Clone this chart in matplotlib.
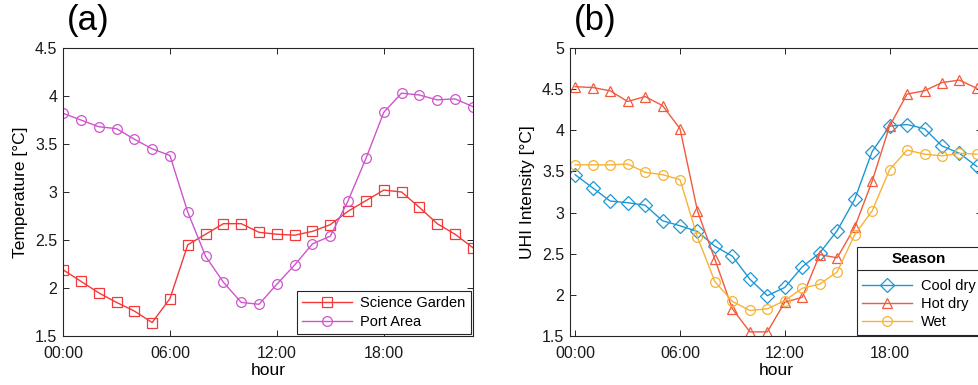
import numpy as np
import matplotlib
matplotlib.use("Agg")
import matplotlib.pyplot as plt
from matplotlib.lines import Line2D

plt.rcParams['font.family'] = ['Liberation Sans', 'DejaVu Sans']

hours = np.arange(24)
tick_hours = [0, 6, 12, 18]
tick_labels = ['00:00', '06:00', '12:00', '18:00']

# (a) temperature difference by site
science_garden = [2.19, 2.07, 1.95, 1.85, 1.76, 1.64, 1.89, 2.45, 2.56, 2.67, 2.67, 2.58,
                  2.56, 2.55, 2.59, 2.66, 2.80, 2.91, 3.02, 3.00, 2.84, 2.67, 2.56, 2.42]
port_area = [3.82, 3.75, 3.68, 3.66, 3.55, 3.45, 3.38, 2.79, 2.33, 2.06, 1.85, 1.83,
             2.04, 2.24, 2.46, 2.54, 2.91, 3.35, 3.83, 4.03, 4.01, 3.96, 3.97, 3.89]

# (b) UHI intensity by season
cool_dry = [3.46, 3.30, 3.14, 3.12, 3.09, 2.90, 2.84, 2.77, 2.59, 2.47, 2.19, 1.99,
            2.09, 2.34, 2.51, 2.78, 3.16, 3.74, 4.05, 4.07, 4.02, 3.81, 3.72, 3.56]
hot_dry = [4.53, 4.52, 4.48, 4.35, 4.41, 4.30, 4.02, 3.02, 2.43, 1.83, 1.55, 1.55,
           1.91, 1.97, 2.49, 2.45, 2.82, 3.38, 4.05, 4.44, 4.48, 4.58, 4.61, 4.51]
wet = [3.58, 3.58, 3.58, 3.59, 3.49, 3.46, 3.40, 2.70, 2.16, 1.92, 1.81, 1.83,
       1.93, 2.08, 2.13, 2.28, 2.73, 3.02, 3.52, 3.76, 3.71, 3.69, 3.72, 3.71]

spine_col = '#262626'

fig = plt.figure(figsize=(9.79, 3.85), dpi=100)
ax1 = fig.add_axes([0.0644, 0.1273, 0.4186, 0.748])
ax2 = fig.add_axes([0.5822, 0.1273, 0.4210, 0.748])


def style(ax):
    for s in ax.spines.values():
        s.set_color(spine_col)
        s.set_linewidth(0.8)
    ax.tick_params(direction='in', top=True, right=True, length=4, width=0.7,
                   color=spine_col, labelsize=11.5, labelcolor='#1a1a1a', pad=4)
    ax.tick_params(axis='x', pad=7)
    ax.set_xticks(tick_hours)
    ax.set_xticklabels(tick_labels)
    ax.set_xlabel('hour', fontsize=12.5, labelpad=2)


mk = dict(markerfacecolor='none', markersize=7, linewidth=1.0, markeredgewidth=0.9)
leg_kw = dict(loc='lower right', fontsize=10.5, fancybox=False, framealpha=1,
              edgecolor=spine_col, handlelength=3.4, borderpad=0.35,
              labelspacing=0.3, handletextpad=0.6)

ax1.plot(hours, science_garden, '-s', color='#f23a3a', label='Science Garden', **mk)
ax1.plot(hours, port_area, '-o', color='#cf55cc', label='Port Area', **mk)
ax1.set_xlim(0, 23)
ax1.set_ylim(1.5, 4.5)
ax1.set_yticks([1.5, 2, 2.5, 3, 3.5, 4, 4.5])
ax1.set_yticklabels(['1.5', '2', '2.5', '3', '3.5', '4', '4.5'])
ax1.set_ylabel('Temperature [°C]', fontsize=12.5, labelpad=5)
style(ax1)
leg1 = ax1.legend(borderaxespad=0.15, **leg_kw)
leg1.get_frame().set_linewidth(0.8)

ax2.plot(hours, cool_dry, '-D', color='#1c98d4', label='Cool dry', **mk)
ax2.plot(hours, hot_dry, '-^', color='#f25a3d', label='Hot dry', **mk)
ax2.plot(hours, wet, '-o', color='#f6b336', label='Wet', **mk)
ax2.set_xlim(-0.3, 23.3)
ax2.set_ylim(1.5, 5)
ax2.set_yticks([1.5, 2, 2.5, 3, 3.5, 4, 4.5, 5])
ax2.set_yticklabels(['1.5', '2', '2.5', '3', '3.5', '4', '4.5', '5'])
ax2.set_ylabel('UHI Intensity [°C]', fontsize=12.5, labelpad=5)
style(ax2)
leg2 = ax2.legend(borderaxespad=0.1, title='Season',
                  title_fontproperties={'weight': 'bold', 'size': 11}, **leg_kw)
leg2.get_frame().set_linewidth(0.8)
leg2._legend_box.sep = 9

# separator line under the legend title
fig.canvas.draw()
r = fig.canvas.get_renderer()
fb = leg2.get_frame().get_window_extent(r)
tb = leg2.get_title().get_window_extent(r)
ysep = tb.y0 - 4
inv = fig.transFigure.inverted()
(x0, y0) = inv.transform((fb.x0, ysep))
(x1, _) = inv.transform((fb.x1, ysep))
fig.add_artist(Line2D([x0, x1], [y0, y0], color=spine_col, linewidth=0.8,
                      transform=fig.transFigure))

fig.text(0.068, 0.99, '(a)', fontsize=25, va='top', ha='left')
fig.text(0.586, 0.99, '(b)', fontsize=25, va='top', ha='left')

fig.savefig('out.png', dpi=100)
